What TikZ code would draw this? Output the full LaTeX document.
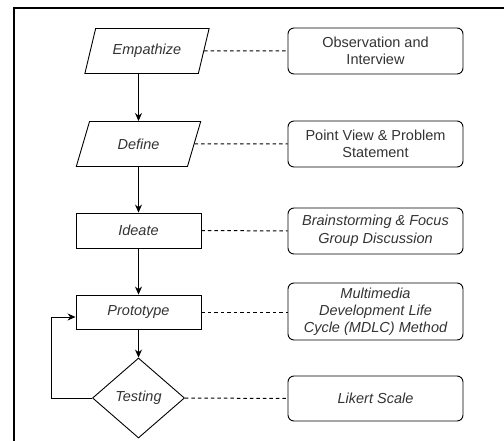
\documentclass[tikz,border=0pt]{standalone}
\usepackage{fontspec}
\setmainfont{Liberation Sans}
\usetikzlibrary{arrows.meta,shapes.geometric}

\begin{document}
\begin{tikzpicture}[>={Stealth[length=8pt,width=7pt]},x=1pt,y=-1pt,
  stage/.style={draw,line width=0.9pt,text=black!80,font=\fontsize{14.5}{17.5}\selectfont\itshape,inner sep=0pt},
  iostage/.style={stage,trapezium,trapezium left angle=62,trapezium right angle=118,trapezium stretches=true,minimum width=125pt,minimum height=45pt},
  boxstage/.style={stage,rectangle,minimum width=125pt,minimum height=35pt},
  method/.style={draw,line width=0.9pt,rounded corners=6pt,text=black!80,align=center,minimum width=175pt,font=\fontsize{14.5}{17.5}\selectfont,inner sep=0pt},
  link/.style={dash pattern=on 3.5pt off 3pt,line width=1pt}
]
\useasboundingbox (0,0) rectangle (504,441);
% Frame
\draw[line width=1.2pt] (14,441) -- (14,8) -- (504,8);

% Define the stages
\node[iostage] (E) at (147,51) {Empathize};
\node[iostage] (D) at (138.5,144) {Define};
\node[boxstage] (I) at (138.5,230.5) {Ideate};
\node[boxstage, minimum height=34pt] (P) at (138.5,312) {Prototype};
\node[stage, diamond, minimum width=92pt, minimum height=80pt, aspect=1.15] (T) at (138.5,398) {Testing};

% Define the methods
\node[method, minimum height=46pt] (Obs) at (375.5,51) {Observation and\\Interview};
\node[method, minimum height=46pt] (PV) at (375.5,144) {Point View \& Problem\\Statement};
\node[method, minimum height=46pt, font=\fontsize{14.5}{17.5}\selectfont\itshape] (BS) at (375.5,231) {Brainstorming \& Focus\\Group Discussion};
\node[method, minimum height=57pt, font=\fontsize{14.5}{17}\selectfont\itshape] (MD) at (375.5,311.5) {Multimedia\\Development Life\\Cycle (MDLC) Method};
\node[method, minimum height=45pt, font=\fontsize{14.5}{17.5}\selectfont\itshape] (LS) at (375.5,398.5) {Likert Scale};

% Draw the flow
\draw[->, line width=0.9pt] (E.south -| D.north) -- (D.north);
\draw[->, line width=0.9pt] (D.south) -- (I.north);
\draw[->, line width=0.9pt] (I.south) -- (P.north);
\draw[->, line width=0.9pt] (P.south) -- (T.north);
\coordinate (back) at (51,317);
\draw[->, line width=0.9pt] (T.west) -| (back) -- (back -| P.west);

% Link stages to methods
\draw[link] (E.east) -- (Obs.west);
\draw[link] (D.east) -- (PV.west);
\draw[link] (I.east) -- (BS.west);
\draw[link] (P.east) -- (P.east -| MD.west);
\draw[link] (T.east) -- (LS.west);
\end{tikzpicture}
\end{document}
